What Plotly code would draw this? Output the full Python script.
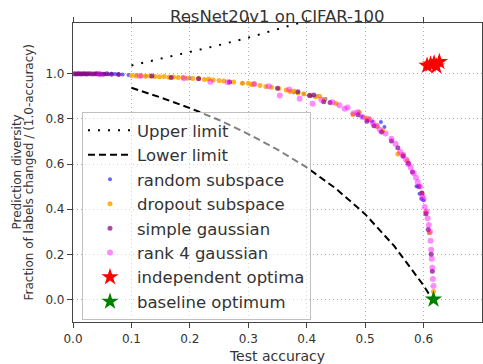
import plotly.graph_objects as go

# ---------------- data ----------------
ul_x = [0.1, 0.15, 0.2, 0.25, 0.3, 0.35, 0.4]
ul_y = [1.037, 1.066, 1.096, 1.127, 1.16, 1.196, 1.235]

ll_x = [0.1, 0.15, 0.2, 0.25, 0.3, 0.35, 0.4, 0.45, 0.5, 0.55, 0.6, 0.615]
ll_y = [0.938, 0.895, 0.848, 0.795, 0.733, 0.664, 0.585, 0.491, 0.378, 0.236, 0.062, 0.0]

rs_x = [0.04, 0.047, 0.054, 0.06, 0.066, 0.072, 0.078, 0.085, 0.095, 0.108, 0.125, 0.2, 0.29,
        0.378, 0.395, 0.407, 0.418, 0.432, 0.495, 0.505, 0.512, 0.527, 0.533, 0.588, 0.593, 0.596, 0.6]
rs_y = [1.0, 0.999, 1.0, 0.998, 1.0, 0.999, 0.998, 0.997, 0.995, 0.993, 0.99, 0.98, 0.958,
        0.918, 0.912, 0.903, 0.9, 0.888, 0.81, 0.795, 0.79, 0.786, 0.764, 0.502, 0.468, 0.446, 0.44]

do_x = [0.1, 0.108, 0.116, 0.124, 0.132, 0.14, 0.148, 0.156, 0.164, 0.172, 0.18, 0.188, 0.196,
        0.205, 0.215, 0.225, 0.232, 0.24, 0.25, 0.258, 0.275, 0.29, 0.3, 0.305, 0.31, 0.32, 0.33,
        0.34, 0.352, 0.365, 0.372, 0.378, 0.385, 0.395, 0.405, 0.415, 0.422, 0.43, 0.45,
        0.479, 0.49, 0.5, 0.508, 0.52, 0.53, 0.556, 0.565, 0.572, 0.597, 0.604, 0.61, 0.617]
do_y = [0.992, 0.99, 0.991, 0.989, 0.99, 0.988, 0.987, 0.988, 0.985, 0.986, 0.983, 0.984, 0.98,
        0.979, 0.98, 0.975, 0.977, 0.972, 0.97, 0.968, 0.963, 0.958, 0.958, 0.952, 0.955, 0.948, 0.944,
        0.94, 0.935, 0.928, 0.922, 0.924, 0.915, 0.91, 0.905, 0.898, 0.9, 0.885, 0.868,
        0.82, 0.83, 0.805, 0.8, 0.768, 0.748, 0.645, 0.64, 0.615, 0.47, 0.385, 0.295, 0.035]

sg_x = [0.002, 0.005, 0.008, 0.011, 0.014, 0.017, 0.02, 0.023, 0.026, 0.03, 0.034, 0.038, 0.042,
        0.047, 0.052, 0.058, 0.066, 0.078, 0.135, 0.168, 0.215, 0.268, 0.35, 0.385, 0.405, 0.412,
        0.429, 0.44, 0.488, 0.503, 0.515, 0.528, 0.545, 0.556, 0.565, 0.574, 0.581, 0.592, 0.597,
        0.604, 0.608, 0.613, 0.615]
sg_y = [1.0, 0.999, 1.0, 1.0, 0.999, 1.0, 1.0, 0.999, 1.0, 1.0, 0.999, 1.0, 1.0,
        0.999, 0.998, 1.0, 0.998, 0.997, 0.99, 0.984, 0.978, 0.964, 0.936, 0.92, 0.904, 0.906,
        0.876, 0.873, 0.818, 0.79, 0.77, 0.742, 0.702, 0.672, 0.635, 0.603, 0.565, 0.5, 0.472,
        0.38, 0.31, 0.2, 0.125]

r4_x = [0.045, 0.115, 0.19, 0.235, 0.265, 0.31, 0.335, 0.354, 0.37, 0.388, 0.41, 0.425, 0.444,
        0.456, 0.465, 0.47, 0.48, 0.487, 0.495, 0.505, 0.513, 0.52, 0.525, 0.535, 0.545, 0.552,
        0.56, 0.565, 0.57, 0.574, 0.578, 0.583, 0.587, 0.59, 0.594, 0.598, 0.6, 0.602, 0.605,
        0.607, 0.609, 0.611, 0.612, 0.613, 0.614, 0.615, 0.616, 0.617]
r4_y = [0.998, 0.99, 0.98, 0.965, 0.962, 0.955, 0.945, 0.904, 0.93, 0.889, 0.867, 0.885, 0.874,
        0.86, 0.845, 0.85, 0.825, 0.83, 0.808, 0.8, 0.783, 0.77, 0.752, 0.735, 0.712, 0.69,
        0.655, 0.64, 0.62, 0.6, 0.585, 0.56, 0.54, 0.52, 0.5, 0.46, 0.445, 0.41, 0.39,
        0.36, 0.33, 0.3, 0.26, 0.22, 0.18, 0.14, 0.09, 0.06]

io_x = [0.606, 0.612, 0.618, 0.622, 0.627]
io_y = [1.036, 1.042, 1.046, 1.033, 1.053]

bo_x = [0.617]
bo_y = [0.0]

x_ticks = [0.0, 0.1, 0.2, 0.3, 0.4, 0.5, 0.6]
x_labels = ["0.0", "0.1", "0.2", "0.3", "0.4", "0.5", "0.6"]
y_ticks = [0.0, 0.2, 0.4, 0.6, 0.8, 1.0]
y_labels = ["0.0", "0.2", "0.4", "0.6", "0.8", "1.0"]

FONT = "DejaVu Sans"
TXT = "#333333"

fig = go.Figure()
fig.add_trace(go.Scatter(x=ul_x, y=ul_y, mode="lines", name="Upper limit",
                         line=dict(color="black", width=2, dash="2px,8px")))
fig.add_trace(go.Scatter(x=ll_x, y=ll_y, mode="lines", name="Lower limit",
                         line=dict(color="black", width=2, dash="7px,4px")))
fig.add_trace(go.Scatter(x=rs_x, y=rs_y, mode="markers", name="random subspace",
                         marker=dict(color="blue", size=4, opacity=0.6, line=dict(width=0))))
fig.add_trace(go.Scatter(x=do_x, y=do_y, mode="markers", name="dropout subspace",
                         marker=dict(color="orange", size=5, opacity=0.85, line=dict(width=0))))
fig.add_trace(go.Scatter(x=sg_x, y=sg_y, mode="markers", name="simple gaussian",
                         marker=dict(color="purple", size=5, opacity=0.7, line=dict(width=0))))
fig.add_trace(go.Scatter(x=r4_x, y=r4_y, mode="markers", name="rank 4 gaussian",
                         marker=dict(color="magenta", size=6, opacity=0.45, line=dict(width=0))))
fig.add_trace(go.Scatter(x=io_x, y=io_y, mode="markers", name="independent optima",
                         marker=dict(color="red", size=13, symbol="star", line=dict(width=0))))
fig.add_trace(go.Scatter(x=bo_x, y=bo_y, mode="markers", name="baseline optimum",
                         marker=dict(color="green", size=13, symbol="star", line=dict(width=0))))

axis_common = dict(showline=True, linecolor="#444444", linewidth=1.2, mirror="ticks",
                   ticks="outside", ticklen=5, tickcolor="#444444",
                   showgrid=True, gridcolor="#b0b0b0", griddash="1px,3px", gridwidth=1,
                   zeroline=False, tickfont=dict(family=FONT, size=12, color=TXT))

fig.update_xaxes(range=[0, 0.7], tickvals=x_ticks, ticktext=x_labels,
                 title=dict(text="Test accuracy", font=dict(family=FONT, size=14, color=TXT), standoff=6),
                 **axis_common)
fig.update_yaxes(range=[-0.1, 1.225], tickvals=y_ticks, ticktext=y_labels,
                 **axis_common)

fig.update_layout(
    width=483, height=364,
    margin=dict(l=73, r=1, t=23, b=42, autoexpand=False),
    paper_bgcolor="white", plot_bgcolor="white",
    font=dict(family=FONT, color=TXT),
    title=dict(text="ResNet20v1 on CIFAR-100", x=0.574, xanchor="center",
               yref="container", y=0.955, yanchor="middle",
               font=dict(family=FONT, size=16.5, color=TXT)),
    legend=dict(x=0.022, y=0.702, xanchor="left", yanchor="top",
                bgcolor="rgba(255,255,255,0.5)", bordercolor="#c0c0c0", borderwidth=1,
                font=dict(family=FONT, size=16.5, color=TXT), itemwidth=44,
                tracegroupgap=0),
    annotations=[
        dict(text="Prediction diversity", xref="paper", yref="paper", x=0, y=0.5,
             xshift=-57, textangle=-90, showarrow=False, xanchor="center", yanchor="middle",
             font=dict(family=FONT, size=12, color=TXT)),
        dict(text="Fraction of labels changed / (1.0-accuracy)", xref="paper", yref="paper",
             x=0, y=0.5, xshift=-45, textangle=-90, showarrow=False, xanchor="center",
             yanchor="middle", font=dict(family=FONT, size=12, color=TXT)),
    ],
)

fig.write_html("out.html")
